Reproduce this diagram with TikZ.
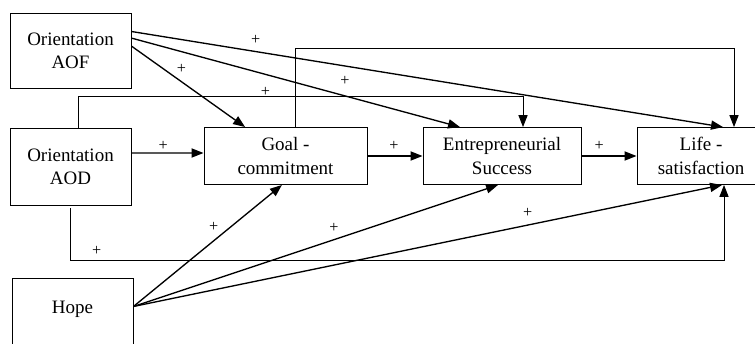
\documentclass[tikz,border=0pt]{standalone}
\usepackage{fontspec}
\setmainfont{Liberation Serif}
\usetikzlibrary{arrows.meta}

\begin{document}
\begin{tikzpicture}[x=0.025cm,y=-0.025cm,
	box/.style={draw,line width=0.65pt,align=center,inner sep=0pt,font=\fontsize{13.5}{16.5}\selectfont},
	link/.style={line width=0.95pt,-{Triangle[length=8.5pt,width=6.5pt]}},
	elbow/.style={link,line width=0.65pt},
	plus/.style={font=\fontsize{11.5}{12}\selectfont,inner sep=0pt},
	]
	\useasboundingbox (0,0) rectangle (755,343);
	%boxes
	\node[box,minimum width=3.025cm,minimum height=1.875cm] (aof) at (70.5,50.5) {Orientation\\AOF};
	\node[box,minimum width=3.025cm,minimum height=1.925cm] (aod) at (70.5,166.5) {Orientation\\AOD};
	\node[box,minimum width=3.025cm,text height=0.875cm,text depth=1.175cm,anchor=north] (hope) at (72.5,278) {Hope};
	\node[box,minimum width=4.075cm,minimum height=1.425cm] (goal) at (285.5,156) {Goal -\\commitment};
	\node[box,minimum width=3.95cm,minimum height=1.425cm] (success) at (502,156) {Entrepreneurial\\Success};
	\node[box,minimum width=3.2cm,minimum height=1.425cm] (life) at (701,156) {Life -\\satisfaction};
	\coordinate (h) at ([yshift=0.325cm]hope.east);
	%from AOF
	\draw[link] ([yshift=0.475cm]aof.east) -- node[plus,pos=0.21,yshift=8pt] {+} ([xshift=0.55cm]life.north);
	\draw[link] ([yshift=0.31cm]aof.east) -- node[plus,pos=0.65,yshift=11pt] {+} ([xshift=-1.05cm]success.north);
	\draw[link] ([yshift=0.11cm]aof.east) -- node[plus,pos=0.44,yshift=9pt] {+} ([xshift=-1.01cm]goal.north);
	%from AOD
	\draw[elbow] ([xshift=0.21cm]aod.north) -- ++(0,-31) -| node[plus,pos=0.21,yshift=3pt] {+} ([xshift=0.525cm]success.north);
	\draw[link] ([yshift=0.3375cm]aod.east) -- node[plus,pos=0.44,yshift=5pt] {+} ([yshift=0.075cm]goal.west);
	\draw[elbow] ([yshift=-2pt]aod.south) -- ++(0,52) -| node[plus,pos=0.02,yshift=6.4pt] {+} ([xshift=0.575cm]life.south);
	%chain
	\draw[elbow] ([xshift=0.26cm]goal.north) -- ++(0,-79) -| ([xshift=0.825cm]life.north);
	\draw[link] (goal.east) -- node[plus,pos=0.48,yshift=7pt] {+} (success.west);
	\draw[link] (success.east) -- node[plus,pos=0.32,yshift=7pt] {+} (life.west);
	%from Hope
	\draw[link] (h) -- node[plus,pos=0.54,yshift=9.7pt] {+} ([xshift=-0.09cm]goal.south);
	\draw[link] (h) -- node[plus,pos=0.55,yshift=8.5pt] {+} ([xshift=-0.1cm]success.south);
	\draw[link] (h) -- node[plus,pos=0.67,yshift=8.5pt] {+} ([xshift=0.525cm]life.south);
\end{tikzpicture}
\end{document}
